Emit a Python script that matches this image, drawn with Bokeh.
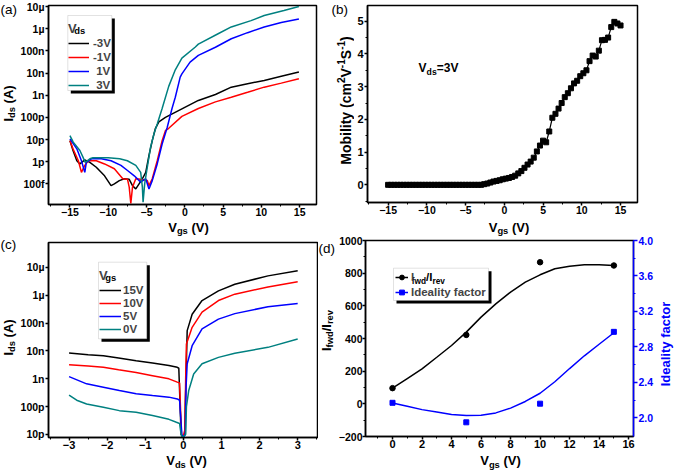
import math
from bokeh.plotting import figure
from bokeh.models import (Range1d, LinearAxis, FixedTicker, Label, Legend, LegendItem,
                          BoxAnnotation, PrintfTickFormatter)
from bokeh.layouts import row, column
from bokeh.embed import file_html
from bokeh.resources import INLINE

# ---------------- data ----------------
# (a) transfer curves, Vgs (V) and Ids (A)
a_vgs_m3 = [-15.0, -14.6, -14.1, -13.7, -13.06, -12.4, -11.56, -10.48, -9.63, -9.2, -8.55, -7.9, -7.26, -6.83,
            -6.4, -5.97, -5.54, -5.1, -4.68, -4.25, -3.83, -3.39, -2.53, -0.38, 1.77, 4.0, 6.07, 8.2, 10.37, 12.6, 14.9]
a_ids_m3 = [8.9e-12, 3.2e-12, 1.1e-12, 7.9e-13, 1.2e-12, 9.3e-13, 5.6e-13, 2.3e-13, 8.3e-14, 1.0e-13, 1.4e-13, 1.7e-13,
            1.6e-13, 8.3e-14, 5.9e-14, 1.0e-13, 1.7e-13, 3.3e-13, 1.9e-12, 8.9e-12, 3.2e-11, 6.3e-11, 1.0e-10, 2.4e-10,
            5.8e-10, 1.07e-9, 2.3e-9, 3.3e-9, 4.6e-9, 7.1e-9, 1.1e-8]
a_vgs_m1 = [-15.0, -14.6, -13.9, -13.5, -13.06, -12.6, -11.56, -10.48, -9.2, -8.1, -7.48, -7.26, -7.05, -6.83, -6.4,
            -5.76, -4.9, -4.68, -4.25, -3.6, -2.96, -2.53, -2.1, -0.38, 1.77, 4.0, 6.07, 8.2, 10.37, 12.6, 14.9]
a_ids_m1 = [8.9e-12, 3.8e-12, 1.1e-12, 3.3e-13, 6.8e-13, 1.1e-12, 1.1e-12, 7.9e-13, 4.8e-13, 1.7e-13, 1.6e-13, 7.1e-14,
            1.3e-14, 7.1e-14, 1.7e-13, 1.6e-13, 1.4e-13, 8.3e-14, 1.7e-13, 1.1e-12, 8.9e-12, 2.5e-11, 3.2e-11, 1.1e-10,
            2.5e-10, 5.0e-10, 8.1e-10, 1.35e-9, 2.3e-9, 3.5e-9, 5.5e-9]
a_vgs_p1 = [-15.0, -14.1, -13.5, -13.06, -12.86, -12.2, -10.9, -9.63, -8.34, -7.48, -6.6, -5.76, -5.1, -4.68, -4.25,
            -3.6, -2.96, -2.3, -1.67, -1.24, -0.6, -0.38, 0.69, 1.77, 4.0, 6.07, 8.2, 10.37, 12.6, 14.9]
a_ids_p1 = [1.07e-11, 3.8e-12, 1.1e-12, 3.3e-13, 9.3e-13, 1.35e-12, 1.35e-12, 1.1e-12, 6.8e-13, 4.0e-13, 2.3e-13,
            1.2e-13, 1.7e-13, 5.9e-14, 1.4e-13, 7.9e-13, 6.3e-12, 3.5e-11, 2.5e-10, 8.1e-10, 6.5e-9, 9.1e-9, 3.1e-8,
            6.2e-8, 1.45e-7, 3.5e-7, 6.6e-7, 1.2e-6, 1.9e-6, 2.75e-6]
a_vgs_p3 = [-15.0, -14.57, -13.7, -13.3, -13.0, -12.4, -12.0, -10.0, -8.5, -7.5, -6.4, -5.76, -5.54, -5.45, -5.24,
            -4.9, -4.47, -4.03, -3.6, -2.96, -2.1, -1.24, -0.38, 1.34, 1.77, 4.35, 6.07, 8.65, 10.37, 12.95, 14.9]
a_ids_p3 = [1.5e-11, 7.6e-12, 3.2e-12, 1.6e-12, 9.3e-13, 1.35e-12, 1.5e-12, 1.5e-12, 1.35e-12, 1.1e-12, 6.8e-13,
            3.3e-13, 7.1e-14, 1.5e-14, 1.0e-13, 5.6e-13, 4.5e-12, 1.8e-11, 5.0e-11, 2.5e-10, 2.5e-9, 1.4e-8, 4.7e-8,
            1.45e-7, 2.0e-7, 5.9e-7, 1.2e-6, 2.3e-6, 3.9e-6, 6.6e-6, 1.0e-5]
a_names = ["-3V", "-1V", "\u00a01V", "\u00a03V"]

# (b) mobility at Vds = 3 V
b_vgs = [-15.0, -14.6, -14.2, -13.8, -13.4, -13.0, -12.6, -12.2, -11.8, -11.4, -11.0, -10.6, -10.2, -9.8, -9.4,
         -9.0, -8.6, -8.2, -7.8, -7.4, -7.0, -6.6, -6.2, -5.8, -5.4, -5.0, -4.6, -4.2, -3.8, -3.4, -3.0,
         -2.6, -2.2, -1.8, -1.4, -1.0, -0.6, -0.2, 0.2, 0.6, 1.0, 1.4, 1.8, 2.2, 2.6, 3.0, 3.4, 3.8, 4.2,
         4.6, 5.0, 5.4, 5.8, 6.2, 6.6, 7.0, 7.4, 7.8, 8.2, 8.6, 9.0, 9.4, 9.8, 10.2, 10.6, 11.0, 11.4,
         11.8, 12.2, 12.6, 13.0, 13.4, 13.8, 14.2, 14.6, 15.0]
b_mob = [0.0, 0.0, 0.0, 0.0, 0.0, 0.0, 0.0, 0.0, 0.0, 0.0, 0.0, 0.0, 0.0, 0.0, 0.0,
         0.0, 0.0, 0.0, 0.0, 0.0, 0.0, 0.0, 0.0, 0.0, 0.0, 0.0, 0.0, 0.0, 0.0, 0.0, 0.0,
         0.02, 0.04, 0.07, 0.10, 0.12, 0.14, 0.17, 0.19, 0.21, 0.24, 0.28, 0.35, 0.42, 0.52, 0.62, 0.71, 0.83, 1.02,
         1.2, 1.35, 1.3, 1.63, 2.05, 2.17, 2.33, 2.5, 2.68, 2.8, 2.95, 3.1, 3.18, 3.32, 3.41, 3.5, 3.78, 3.95,
         3.92, 4.1, 4.42, 4.43, 4.5, 4.82, 4.98, 4.93, 4.87]

# (c) output curves, Vds (V) and Ids (A)
c_vds_15 = [-3.0, -2.5, -2.1, -1.7, -1.24, -0.81, -0.38, -0.16, -0.12, -0.06, -0.02, 0.04, 0.05, 0.1, 0.23, 0.49,
            0.92, 1.35, 2.22, 3.0]
c_ids_15 = [8.5e-9, 7.4e-9, 6.8e-9, 5.6e-9, 4.5e-9, 3.7e-9, 3.0e-9, 2.6e-9, 2.4e-9, 1.0e-11, 8.0e-12, 1.0e-11,
            1.0e-10, 5.4e-8, 2.1e-7, 6.5e-7, 1.45e-6, 2.5e-6, 5.0e-6, 7.6e-6]
c_vds_10 = [-3.0, -2.5, -2.1, -1.7, -1.24, -0.81, -0.38, -0.16, -0.1, -0.05, -0.01, 0.04, 0.06, 0.08, 0.23, 0.49,
            0.92, 1.35, 2.22, 3.0]
c_ids_10 = [3.2e-9, 2.9e-9, 2.6e-9, 2.1e-9, 1.7e-9, 1.3e-9, 1.0e-9, 7.6e-10, 7.1e-10, 1.0e-11, 8.0e-12, 1.5e-11,
            1.0e-9, 1.8e-8, 7.1e-8, 2.5e-7, 6.5e-7, 1.1e-6, 2.0e-6, 3.1e-6]
c_vds_5 = [-3.0, -2.54, -2.1, -1.68, -1.24, -0.81, -0.38, -0.16, -0.1, -0.04, 0.0, 0.05, 0.07, 0.1, 0.23, 0.49,
           0.92, 1.35, 2.22, 3.0]
c_ids_5 = [1.2e-9, 6.6e-10, 5.0e-10, 3.8e-10, 2.9e-10, 2.5e-10, 2.2e-10, 1.9e-10, 1.7e-10, 1.0e-11, 8.0e-12,
           1.0e-11, 5.0e-10, 3.5e-9, 1.55e-8, 6.2e-8, 1.4e-7, 2.2e-7, 3.9e-7, 5.1e-7]
c_vds_0 = [-3.0, -2.8, -2.54, -2.1, -1.68, -1.24, -0.81, -0.38, -0.2, -0.1, -0.06, -0.03, 0.06, 0.08, 0.14, 0.27,
           0.49, 0.92, 1.35, 2.22, 3.0]
c_ids_0 = [2.6e-10, 1.7e-10, 1.25e-10, 9.5e-11, 7.2e-11, 6.3e-11, 4.8e-11, 3.5e-11, 2.8e-11, 2.5e-11, 1.0e-11,
           8.0e-12, 1.0e-11, 1.0e-10, 3.8e-10, 1.5e-9, 3.5e-9, 5.9e-9, 8.3e-9, 1.35e-8, 2.7e-8]
c_names = ["15V", "10V", "5V", "0V"]

# (d) rectification ratio and ideality factor
d_vgs = [0, 5, 10, 15]
d_ratio = [96, 422, 867, 847]
d_ideal = [2.17, 1.95, 2.16, 2.97]
# smooth curves as drawn in the figure
d_curve_vgs = [0, 1, 2, 3, 4, 5, 6, 7, 8, 9, 10, 11, 12, 13, 14, 15]
d_curve_ratio = [96, 155, 214, 285, 357, 439, 531, 612, 684, 745, 790, 827, 843, 851, 851, 847]
d_curve_ideal = [2.167, 2.13, 2.093, 2.065, 2.037, 2.026, 2.03, 2.056, 2.11, 2.185, 2.278, 2.407, 2.556, 2.70,
                 2.83, 2.96]

# tick labels
log_a_ticks = [1e-13, 1e-12, 1e-11, 1e-10, 1e-9, 1e-8, 1e-7, 1e-6, 1e-5]
log_a_labels = ["100f", "1p", "10p", "100p", "1n", "10n", "100n", "1\u00b5", "10\u00b5"]
log_c_ticks = [1e-11, 1e-10, 1e-9, 1e-8, 1e-7, 1e-6, 1e-5]
log_c_labels = ["10p", "100p", "1n", "10n", "100n", "1\u00b5", "10\u00b5"]

# ---------------- styling helpers ----------------
FONT = "Liberation Sans"
BLUE = "#0000ff"
RED = "#ff0000"
TEAL = "#008080"
W = {' ': 278, '(': 333, ')': 333, '-': 333, '/': 278, '=': 584, 'A': 722, 'I': 278, 'M': 833, 'S': 667,
     'V': 667, 'a': 556, 'b': 611, 'c': 556, 'd': 611, 'e': 556, 'f': 333, 'g': 611, 'i': 278, 'l': 278,
     'm': 889, 'o': 611, 'r': 389, 's': 556, 't': 333, 'v': 556, 'w': 778, 'y': 556}
MID = 0.35   # from the middle of the text box down to the baseline, in em
SUB = 2.6    # subscript drop, px


def tw(s, size):
    return sum(W.get(ch, 556) for ch in s) * size / 1000.0


def txt(p, x, y, text, size, color="black", angle=0.0, bold=True, baseline="middle"):
    p.add_layout(Label(x=x, y=y, x_units="canvas", y_units="canvas", text=text, angle=angle,
                       text_align="left", text_baseline=baseline, text_font=FONT,
                       text_font_style="bold" if bold else "normal", text_font_size=f"{size:.2f}px",
                       text_color=color))


def rich(p, x, y, parts, size, color="black", vertical=False, align="center"):
    """parts: (text, kind) with kind 'n' normal, 'b' subscript, 'p' superscript.
    (x, y): canvas pixels (y down) of the baseline centre (or start if align='left');
    for vertical text x is the baseline position."""
    small = size * 0.72
    widths = [tw(t, size if k == 'n' else small) for t, k in parts]
    pos = -sum(widths) / 2.0 if align == "center" else 0.0
    for (t, k), w in zip(parts, widths):
        fs = size if k == 'n' else small
        shift = (0.0 if k == 'n' else (SUB if k == 'b' else -5.5)) - MID * fs
        body = t.lstrip(" ")
        lead = tw(t[:len(t) - len(body)], fs)
        if vertical:
            txt(p, x + shift, y - pos - lead, body, fs, color, angle=math.pi / 2)
        else:
            txt(p, x + pos + lead, y + shift, body, fs, color)
        pos += w


def panel_label(p, x, y, text):
    txt(p, x, y, text, 13.5, bold=False, baseline="top")


def strip(w, h):
    """text-only canvas (no axes, frame = whole canvas) for labels outside the plot frames"""
    s = figure(width=w, height=h, x_range=Range1d(0, 1), y_range=Range1d(0, 1), output_backend="svg",
               toolbar_location=None, x_axis_location=None, y_axis_location=None, min_border=0)
    s.outline_line_color = None
    s.grid.visible = False
    return s


def style_axis(ax, color="black", fs="11px", tick_out=3, standoff=0):
    ax.axis_line_width = 1.5
    ax.axis_line_color = color
    ax.major_tick_line_width = 1.5
    ax.major_tick_line_color = color
    ax.minor_tick_line_width = 1
    ax.minor_tick_line_color = color
    ax.major_tick_in = 0
    ax.major_tick_out = tick_out
    ax.minor_tick_in = 0
    ax.minor_tick_out = 2
    ax.major_label_text_font = FONT
    ax.major_label_text_font_style = "bold"
    ax.major_label_text_font_size = fs
    ax.major_label_text_color = color
    ax.major_label_standoff = standoff


def mkfig(w, h, xr, yr, bl, br, bt, bb, ytype="linear", xfs="11px", yfs="11px", ystand=1):
    p = figure(width=w, height=h, x_range=Range1d(*xr), y_range=Range1d(*yr), y_axis_type=ytype,
               output_backend="svg", toolbar_location=None, min_border_left=bl, min_border_right=br,
               min_border_top=bt, min_border_bottom=bb)
    p.grid.visible = False
    p.outline_line_color = "black"
    p.outline_line_width = 1.5
    p.outline_line_alpha = 1.0
    style_axis(p.xaxis[0], fs=xfs)
    style_axis(p.yaxis[0], fs=yfs, standoff=ystand)
    return p


def legend_frame(p, left, right, bottom, top):
    # drop shadow + white box with grey border, screen units relative to the frame
    common = dict(left_units="screen", right_units="screen", top_units="screen", bottom_units="screen")
    p.add_layout(BoxAnnotation(left=left + 3, right=right + 3, bottom=bottom - 3, top=top - 3,
                               fill_color="black", fill_alpha=1.0, line_color=None, **common))
    p.add_layout(BoxAnnotation(left=left, right=right, bottom=bottom, top=top, fill_color="white",
                               fill_alpha=1.0, line_color="#a0a0a0", line_width=1, **common))


def make_legend(items, vx, vy, title, fs, gw, gh, spacing, standoff, pad, lw=20, title_fs=13):
    kw = dict(items=items, location=(vx, vy),
              label_text_font=FONT, label_text_font_style="bold", label_text_font_size=f"{fs}px",
              glyph_width=gw, glyph_height=gh, label_height=gh, label_width=lw, label_standoff=standoff,
              spacing=spacing, padding=pad, margin=0, border_line_color="black", border_line_alpha=0.0,
              background_fill_alpha=0.0)
    if title:
        kw.update(title=title, title_text_font=FONT, title_text_font_style="bold",
                  title_text_font_size=f"{title_fs}px", title_standoff=1)
    return Legend(**kw)


AXL = 13  # axis label font size, px

# ================= row 1 (page y 0..236) =================
# (a): strip left page x 0..17, figure 17..330 (y 0..219), strip below y 219..236
sAL = strip(17, 236)
panel_label(sAL, 0, 1, "(a)")
rich(sAL, 12.2, 103, [("I", "n"), ("ds", "b"), (" (A)", "n")], AXL, vertical=True)

pa = mkfig(313, 219, (-17.8, 17.2), (1.17e-14, 1.11e-5), 28, 14, 5, 15, ytype="log",
           xfs="10.5px", yfs="10.5px")
pa.xaxis.ticker = FixedTicker(ticks=[-15, -10, -5, 0, 5, 10, 15],
                              minor_ticks=[-17.5, -12.5, -7.5, -2.5, 2.5, 7.5, 12.5])
pa.yaxis.ticker = FixedTicker(ticks=log_a_ticks, minor_ticks=[])
pa.yaxis.major_label_overrides = dict(zip(log_a_ticks, log_a_labels))
ra = []
for xs, ys, col in [(a_vgs_m3, a_ids_m3, "black"), (a_vgs_m1, a_ids_m1, RED),
                    (a_vgs_p1, a_ids_p1, BLUE), (a_vgs_p3, a_ids_p3, TEAL)]:
    ra.append(pa.line(xs, ys, line_color=col, line_width=1.5))
legend_frame(pa, 19.3, 63.3, 114, 189)
rich(pa, 73.7 - 17, 33.0, [("ds", "n")], 9.4, align="left")
pa.add_layout(make_legend([LegendItem(label=n, renderers=[r]) for n, r in zip(a_names, ra)],
                          19, 112, "V", 11.5, 21, 12, 2, 4, 1, lw=18))
sAB = strip(313, 17)
rich(sAB, 188 - 17, 12.2, [("V", "n"), ("gs", "b"), (" (V)", "n")], AXL)

# (b): strip left page x 330..354, figure 354..675
sBL = strip(24, 236)
panel_label(sBL, 1, 1, "(b)")
rich(sBL, 20, 100, [("Mobility (cm", "n"), ("2", "p"), ("V", "n"), ("-1", "p"), ("S", "n"), ("-1", "p"),
                    (")", "n")], 14, vertical=True)

pb = mkfig(321, 219, (-17.66, 17.19), (-0.54, 5.48), 12, 38, 5, 17, xfs="10.5px")
pb.xaxis.ticker = FixedTicker(ticks=[-15, -10, -5, 0, 5, 10, 15],
                              minor_ticks=[-17.5, -12.5, -7.5, -2.5, 2.5, 7.5, 12.5])
pb.yaxis.ticker = FixedTicker(ticks=[0, 1, 2, 3, 4, 5], minor_ticks=[-0.5, 0.5, 1.5, 2.5, 3.5, 4.5])
pb.line(b_vgs, b_mob, line_color="black", line_width=1.2)
pb.scatter(b_vgs, b_mob, marker="square", size=5, fill_color="black", line_color="black")
rich(pb, 438 - 354, 72, [("V", "n"), ("ds", "b"), ("=3V", "n")], 12)
sBB = strip(321, 17)
rich(sBB, 508.5 - 354, 12.2, [("V", "n"), ("gs", "b"), (" (V)", "n")], AXL)

# ================= row 2 (page y 236..473) =================
# (c): strip left page x 0..17, figure 17..318 (y 236..453), strip below 453..473
sCL = strip(17, 237)
panel_label(sCL, 0, 0, "(c)")
rich(sCL, 12.2, 101, [("I", "n"), ("ds", "b"), (" (A)", "n")], AXL, vertical=True)

pc = mkfig(301, 217, (-3.54, 3.52), (7.8e-12, 7.9e-5), 28, 1, 6, 16, ytype="log", yfs="10.5px")
pc.xaxis.ticker = FixedTicker(ticks=[-3, -2, -1, 0, 1, 2, 3],
                              minor_ticks=[-3.5, -2.5, -1.5, -0.5, 0.5, 1.5, 2.5, 3.5])
pc.yaxis.ticker = FixedTicker(ticks=log_c_ticks, minor_ticks=[])
pc.yaxis.major_label_overrides = dict(zip(log_c_ticks, log_c_labels))
rc = []
for xs, ys, col in [(c_vds_15, c_ids_15, "black"), (c_vds_10, c_ids_10, RED),
                    (c_vds_5, c_ids_5, BLUE), (c_vds_0, c_ids_0, TEAL)]:
    rc.append(pc.line(xs, ys, line_color=col, line_width=1.5))
legend_frame(pc, 50, 98.3, 98.7, 175.3)
rich(pc, 104.7 - 17, 280.7 - 236, [("gs", "n")], 9.4, align="left")
pc.add_layout(make_legend([LegendItem(label=n, renderers=[r]) for n, r in zip(c_names, rc)],
                          50, 101, "V", 11.5, 22, 12, 1, 2, 1))
sCB = strip(301, 20)
rich(sCB, 186 - 17, 12, [("V", "n"), ("ds", "b"), (" (V)", "n")], AXL)

# (d): strip left page x 318..335, figure 335..656, strip right 656..675
sDL = strip(17, 237)
panel_label(sDL, 0, 4, "(d)")
rich(sDL, 12.2, 94, [("I", "n"), ("fwd", "b"), ("/I", "n"), ("rev", "b")], AXL, vertical=True)

pd_ = mkfig(321, 217, (-1.83, 16.33), (-200, 1000), 27, 21, 4, 17, yfs="10.5px", ystand=0)
pd_.extra_y_ranges = {"ideal": Range1d(1.79, 4.0)}
rax = LinearAxis(y_range_name="ideal")
style_axis(rax, BLUE, fs="10.5px", tick_out=4, standoff=1)
rax.ticker = FixedTicker(ticks=[2.0, 2.4, 2.8, 3.2, 3.6, 4.0], minor_ticks=[2.2, 2.6, 3.0, 3.4, 3.8])
rax.formatter = PrintfTickFormatter(format="%.1f")
pd_.add_layout(rax, "right")
pd_.xaxis.ticker = FixedTicker(ticks=[0, 2, 4, 6, 8, 10, 12, 14, 16],
                               minor_ticks=[-1, 1, 3, 5, 7, 9, 11, 13, 15])
pd_.yaxis[0].ticker = FixedTicker(ticks=[-200, 0, 200, 400, 600, 800, 1000],
                                  minor_ticks=[-100, 100, 300, 500, 700, 900])
l1 = pd_.line(d_curve_vgs, d_curve_ratio, line_color="black", line_width=1.5)
s1 = pd_.scatter(d_vgs, d_ratio, marker="circle", size=5.5, fill_color="black", line_color="black")
l2 = pd_.line(d_curve_vgs, d_curve_ideal, line_color=BLUE, line_width=1.5, y_range_name="ideal")
s2 = pd_.scatter(d_vgs, d_ideal, marker="square", size=5, fill_color=BLUE, line_color=BLUE,
                 y_range_name="ideal")
legend_frame(pd_, 28, 123, 136, 168.3)
# subscripts of the first legend entry (I_fwd / I_rev)
rich(pd_, 411.2 - 335, 283.9 - 236, [("fwd", "n")], 8.3, align="left")
rich(pd_, 425.5 - 335, 280.7 - 236, [("/I", "n")], 11.5, align="left")
rich(pd_, 431.9 - 335, 283.9 - 236, [("rev", "n")], 8.3, align="left")
pd_.add_layout(make_legend([LegendItem(label="I", renderers=[l1, s1]),
                            LegendItem(label="Ideality factor", renderers=[l2, s2])],
                           28, 136, None, 11.5, 13, 12, 3, 3, 2))
sDB = strip(321, 20)
rich(sDB, 500 - 335, 12, [("V", "n"), ("gs", "b"), (" (V)", "n")], AXL)
sDR = strip(19, 237)
rich(sDR, 14, 107.5, [("Ideality factor", "n")], AXL, color=BLUE, vertical=True)

row1 = row(sAL, column(pa, sAB), sBL, column(pb, sBB))
row2 = row(sCL, column(pc, sCB), sDL, column(pd_, sDB), sDR)
layout = column(row1, row2)
open("out.html", "w").write(file_html(layout, INLINE))
